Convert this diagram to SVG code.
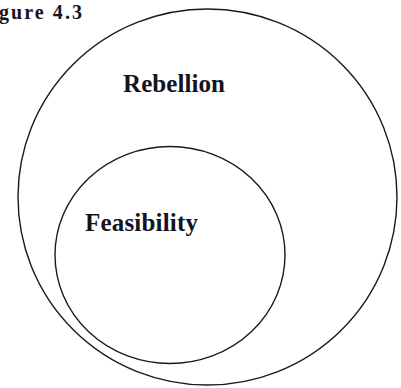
<svg xmlns="http://www.w3.org/2000/svg" width="401" height="388" viewBox="0 0 401 388">
<style>
.c{fill:none;stroke:#1a1a1a;stroke-width:1.4}
.t{font-family:"Liberation Serif",serif;font-weight:bold;fill:#141420}
</style>
<rect width="401" height="388" fill="#fff"/>
<text class="t" x="-1" y="18.5" font-size="20" textLength="83" lengthAdjust="spacing">gure 4.3</text>
<g id="rebellion">
<ellipse class="c" cx="207.5" cy="197" rx="189.5" ry="188"/>
<text class="t" x="123" y="91.5" font-size="25" textLength="102" lengthAdjust="spacing">Rebellion</text>
</g>
<g id="feasibility">
<ellipse class="c" cx="170" cy="255" rx="115" ry="108.5"/>
<text class="t" x="85" y="231" font-size="25" textLength="113" lengthAdjust="spacing">Feasibility</text>
</g>
<g id="connectors"/>
</svg>
